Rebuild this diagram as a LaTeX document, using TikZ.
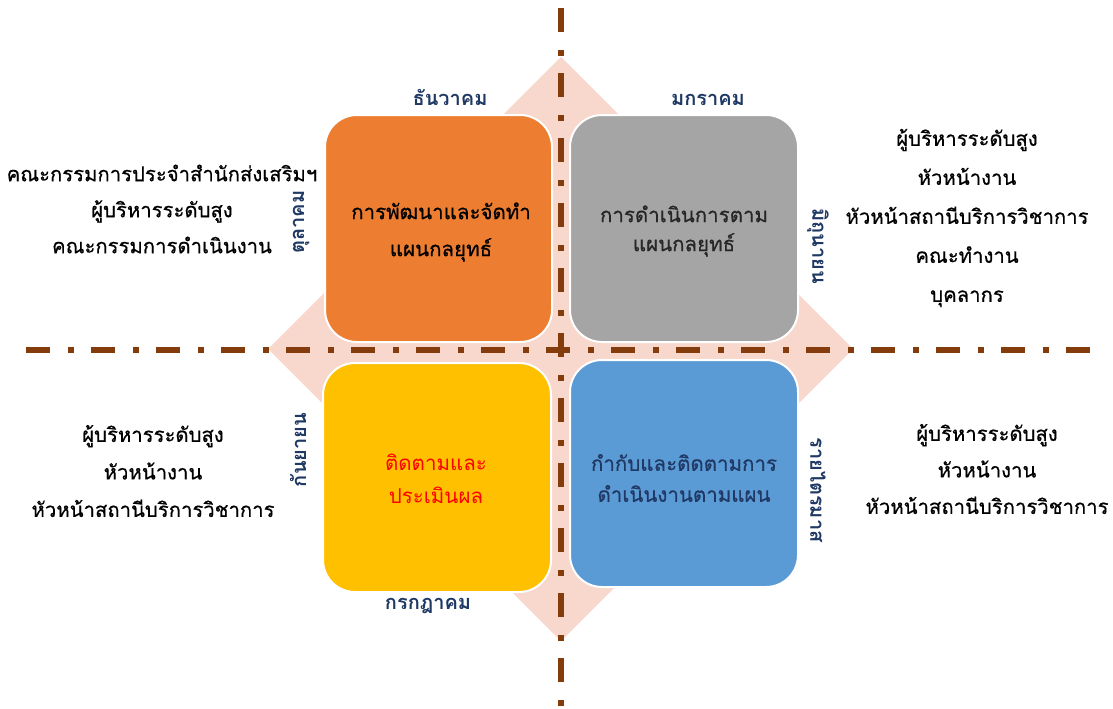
\documentclass[tikz,border=0pt]{standalone}
\usepackage{fontspec}
\newfontfamily\thaifont[Script=Thai,FakeBold=0.6]{Loma}
\newfontfamily\thailight[Script=Thai]{Loma}
\newfontfamily\thaimonth[Script=Thai]{Loma}
\definecolor{diamondpink}{HTML}{F8D7CC}
\definecolor{axisbrown}{HTML}{843C0C}
\definecolor{boxorange}{HTML}{ED7D31}
\definecolor{boxgray}{HTML}{A5A5A5}
\definecolor{boxyellow}{HTML}{FFC000}
\definecolor{boxblue}{HTML}{5B9BD5}
\definecolor{monthnavy}{HTML}{1F3864}
\definecolor{graytext}{HTML}{262626}
\begin{document}
\begin{tikzpicture}[x=1pt,y=-1pt,
  quad/.style={draw=white,line width=2pt,rounded corners=32pt,
    minimum width=227pt,minimum height=227pt},
  boxtext/.style={align=center,inner sep=0pt,
    font=\thaifont\fontsize{20.5}{#1}\selectfont},
  month/.style={text=monthnavy,font=\thaimonth\bfseries\fontsize{20}{22}\selectfont,inner sep=0pt},
  people/.style={align=center,text=black,font=\thaifont\fontsize{20.3}{#1}\selectfont},
  axis/.style={draw=axisbrown,line width=6pt,line cap=butt,
    dash pattern=on 24pt off 18pt on 6pt off 17pt}]
\useasboundingbox (0,0) rectangle (1113,709);
% background diamond
\fill[diamondpink] (561,57) -- (853,349) -- (561,641) -- (268,349) -- cycle;
% dash-dot axes
\coordinate (hl) at (26,350);
\coordinate (hr) at (1090,350);
\coordinate (vt) at (561,8);
\coordinate (vb) at (561,708);
\draw[axis] (hl) -- (hr);
\draw[axis] (vt) -- (vb);
% the four quadrants
\node[quad,fill=boxorange] (plan) at (438.5,228.5) {};
\node[quad,fill=boxgray,minimum width=228pt] (do) at (684,228.5) {};
\node[quad,fill=boxyellow,minimum width=228pt,minimum height=229pt] (check) at (437,477.5) {};
\node[quad,fill=boxblue,minimum width=228pt] (act) at (684,473.5) {};
\node[boxtext=37,text=black] (plantext) at (441,232) {การพัฒนาและจัดทำ\\แผนกลยุทธ์};
\node[boxtext=29,text=graytext] (dotext) at (684,231) {การดำเนินการตาม\\แผนกลยุทธ์};
\node[boxtext=33,text=red,font=\thailight\fontsize{20.5}{33}\selectfont] (checktext) at (436,479) {ติดตามและ\\ประเมินผล};
\node[boxtext=31,text=monthnavy] (acttext) at (684,478) {กำกับและติดตามการ\\ดำเนินงานตามแผน};
% month labels
\node[month] (dec) at (450,97) {ธันวาคม};
\node[month] (jan) at (708,100) {มกราคม};
\node[month] (jul) at (428,606) {กรกฎาคม};
\node[month,rotate=90] (oct) at (301,222) {ตุลาคม};
\node[month,rotate=-90] (jun) at (818,246) {มิถุนายน};
\node[month,rotate=90] (sep) at (298,450) {กันยายน};
\node[month,rotate=-90] (qtr) at (818,490) {รายไตรมาส};
% responsible people
\node[people=36] (ptl) at (162,209) {คณะกรรมการประจำสำนักส่งเสริมฯ\\ผู้บริหารระดับสูง\\คณะกรรมการดำเนินงาน};
\node[people=39] (ptr) at (967,218) {ผู้บริหารระดับสูง\\หัวหน้างาน\\หัวหน้าสถานีบริการวิชาการ\\คณะทำงาน\\บุคลากร};
\node[people=37.5] (pbl) at (153,471) {ผู้บริหารระดับสูง\\หัวหน้างาน\\หัวหน้าสถานีบริการวิชาการ};
\node[people=36.5] (pbr) at (987,469) {ผู้บริหารระดับสูง\\หัวหน้างาน\\หัวหน้าสถานีบริการวิชาการ};
\end{tikzpicture}
\end{document}
